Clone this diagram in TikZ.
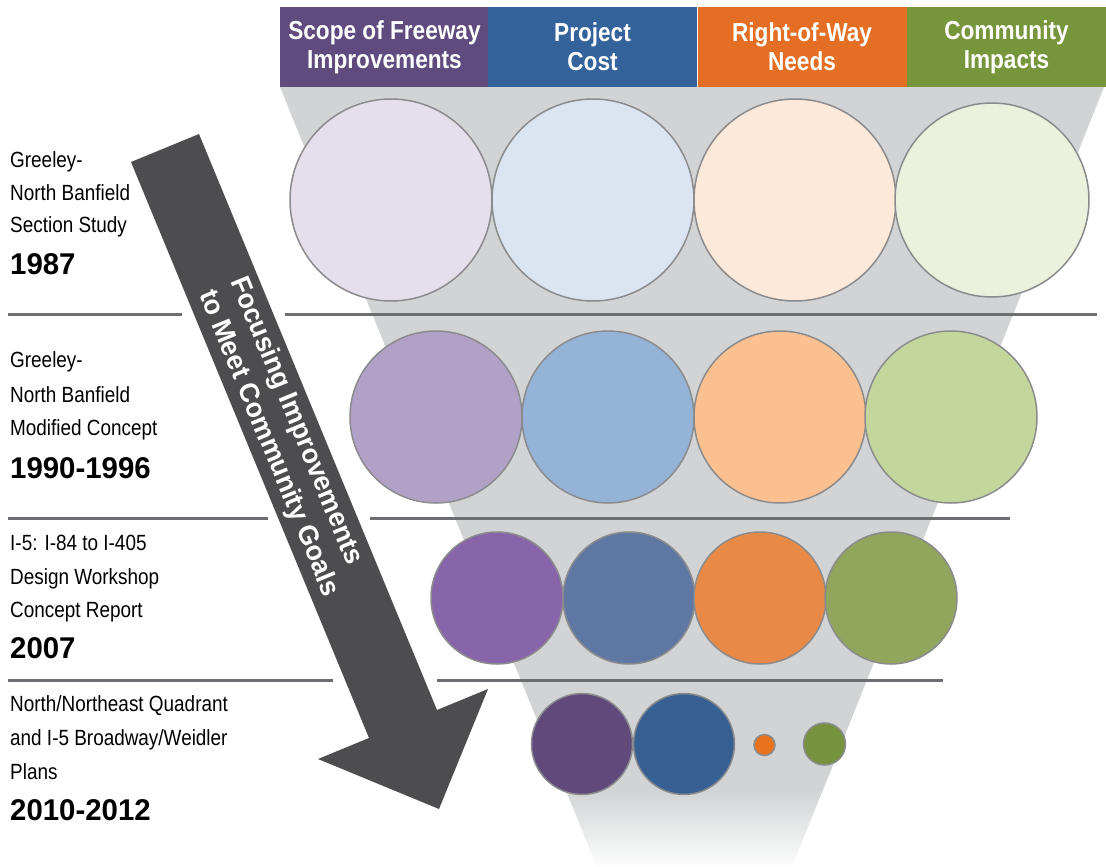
\documentclass[tikz,border=0pt]{standalone}
\usepackage{fontspec}
\setmainfont{Liberation Sans}
\newfontfamily\condfont{Liberation Sans}[FakeStretch=0.86]
\newfontfamily\headfont{Liberation Sans}[FakeStretch=0.87]
\newfontfamily\yearfont{Liberation Sans}[FakeStretch=0.98]
\newfontfamily\arrowfont{Liberation Sans}[FakeStretch=0.97]
\definecolor{hpurple}{HTML}{5F4B7D}
\definecolor{hblue}{HTML}{33639A}
\definecolor{horange}{HTML}{E46F24}
\definecolor{hgreen}{HTML}{77963B}
\definecolor{aP}{HTML}{E5DFEC}
\definecolor{aB}{HTML}{DBE5F1}
\definecolor{aO}{HTML}{FDE9D9}
\definecolor{aG}{HTML}{EBF1DD}
\definecolor{bP}{HTML}{B2A1C7}
\definecolor{bB}{HTML}{95B3D7}
\definecolor{bO}{HTML}{FAC08F}
\definecolor{bG}{HTML}{C3D69B}
\definecolor{cP}{HTML}{8865AB}
\definecolor{cB}{HTML}{5E78A3}
\definecolor{cO}{HTML}{E88A45}
\definecolor{cG}{HTML}{91A55C}
\definecolor{dP}{HTML}{604A7B}
\definecolor{dB}{HTML}{366092}
\definecolor{dO}{HTML}{E8731F}
\definecolor{dG}{HTML}{76923C}
\definecolor{funnel}{HTML}{D1D3D4}
\definecolor{sepline}{HTML}{6D6E71}
\definecolor{arrowc}{HTML}{4D4D4F}
\definecolor{ringc}{HTML}{8B8B8D}
\begin{document}
\begin{tikzpicture}[x=1pt,y=-1pt,
  band/.style={rectangle, minimum width=209, minimum height=80, inner sep=0, text=white, align=center,
    font=\headfont\bfseries\fontsize{26}{29}\selectfont},
  ball/.style={circle, inner sep=0, draw=ringc, line width=1.5},
  lab/.style={anchor=base west, inner sep=0, font=\condfont\fontsize{22}{26}\selectfont},
  yr/.style={anchor=base west, inner sep=0, font=\yearfont\bfseries\fontsize{30}{32}\selectfont},
  sep/.style={draw=sepline, line width=3}]
\useasboundingbox (0,0) rectangle (1106,867);
\fill[white] (0,0) rectangle (1106,867);
% funnel
\fill[funnel] (280,87) -- (1104,87) -- (823,790) -- (565.5,790) -- cycle;
\shade[top color=funnel, bottom color=white!96!funnel] (565.5,789.5) -- (823,789.5) -- (792,867) -- (597,867) -- cycle;
% separator lines
\draw[sep] (8,314) -- (182,314);
\draw[sep] (285,314) -- (1097,314);
\draw[sep] (8,518) -- (268,518);
\draw[sep] (370,518) -- (1010,518);
\draw[sep] (8,680) -- (333,680);
\draw[sep] (437,680) -- (943,680);
% header
\node[band, fill=hpurple] (h1) at (384.5,47) {Scope of Freeway\\Improvements};
\node[band, fill=hblue] (h2) at (592.5,47) {Project\\Cost};
\node[band, fill=horange] (h3) at (802,47) {Right-of-Way\\Needs};
\node[band, fill=hgreen, minimum width=200] (h4) at (1006.5,47) {Community\\Impacts};
% circles row 1
\node[ball, fill=aP, minimum size=202] (a1) at (391,200) {};
\node[ball, fill=aB, minimum size=202] (a2) at (593,200) {};
\node[ball, fill=aO, minimum size=202] (a3) at (795,200) {};
\node[ball, fill=aG, minimum size=194] (a4) at (992,200) {};
% row 2
\node[ball, fill=bP, minimum size=172] (b1) at (436,417) {};
\node[ball, fill=bB, minimum size=172] (b2) at (608,417) {};
\node[ball, fill=bO, minimum size=172] (b3) at (780,417) {};
\node[ball, fill=bG, minimum size=172] (b4) at (951,417) {};
% row 3
\node[ball, fill=cP, minimum size=132] (c1) at (497,598) {};
\node[ball, fill=cB, minimum size=132] (c2) at (629,598) {};
\node[ball, fill=cO, minimum size=132] (c3) at (760,598) {};
\node[ball, fill=cG, minimum size=132] (c4) at (891,598) {};
% row 4
\node[ball, fill=dP, minimum size=101] (d1) at (582,744) {};
\node[ball, fill=dB, minimum size=101] (d2) at (684,744) {};
\node[ball, fill=dO, minimum size=21] (d3) at (764.5,745) {};
\node[ball, fill=dG, minimum size=42] (d4) at (824.5,744) {};
% arrow
\fill[arrowc] (131,162) -- (199,134) -- (437,710) -- (488,689) -- (439,809) -- (318,759) -- (369,738) -- cycle;
\node[rotate=-67.6, align=left, text=white, inner sep=0,
  font=\arrowfont\bfseries\fontsize{27.5}{34}\selectfont] (atext) at (284,437)
  {Focusing Improvements\\to Meet Community Goals};
% left labels
\node[lab] (s1a) at (10,167) {Greeley-};
\node[lab] (s1b) at (10,200) {North Banfield};
\node[lab] (s1c) at (10,232) {Section Study};
\node[yr]  (s1y) at (10,274) {1987};
\node[lab] (s2a) at (10,367) {Greeley-};
\node[lab] (s2b) at (10,402) {North Banfield};
\node[lab] (s2c) at (10,435) {Modified Concept};
\node[yr]  (s2y) at (10,478) {1990-1996};
\node[lab] (s3a) at (10,550) {I-5: I-84 to I-405};
\node[lab] (s3b) at (10,584) {Design Workshop};
\node[lab] (s3c) at (10,617) {Concept Report};
\node[yr]  (s3y) at (10,658) {2007};
\node[lab] (s4a) at (10,711) {North/Northeast Quadrant};
\node[lab] (s4b) at (10,745) {and I-5 Broadway/Weidler};
\node[lab] (s4c) at (10,779) {Plans};
\node[yr]  (s4y) at (10,820) {2010-2012};
\end{tikzpicture}
\end{document}
